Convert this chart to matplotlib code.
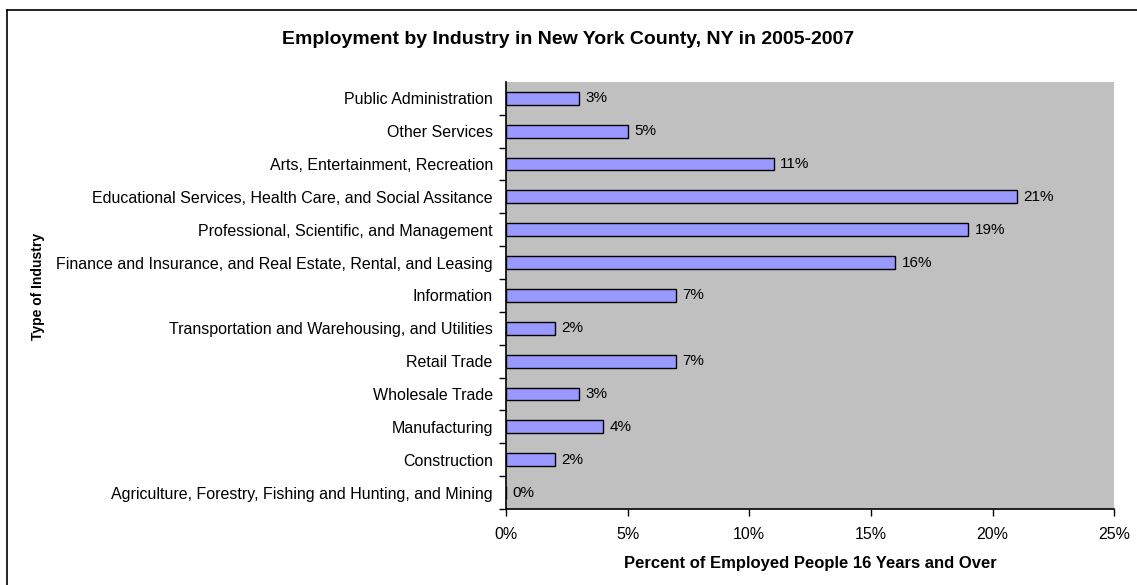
import matplotlib.pyplot as plt
from matplotlib.lines import Line2D

plt.rcParams['font.family'] = ['Liberation Sans', 'DejaVu Sans']

industries = [
    "Agriculture, Forestry, Fishing and Hunting, and Mining",
    "Construction",
    "Manufacturing",
    "Wholesale Trade",
    "Retail Trade",
    "Transportation and Warehousing, and Utilities",
    "Information",
    "Finance and Insurance, and Real Estate, Rental, and Leasing",
    "Professional, Scientific, and Management",
    "Educational Services, Health Care, and Social Assitance",
    "Arts, Entertainment, Recreation",
    "Other Services",
    "Public Administration",
]
percent = [0, 2, 4, 3, 7, 2, 7, 16, 19, 21, 11, 5, 3]
xticks = [0, 5, 10, 15, 20, 25]

fig = plt.figure(figsize=(11.37, 5.85), dpi=100)
ax = fig.add_axes([0.445, 0.130, 0.535, 0.730])
ax.set_facecolor('#c0c0c0')

pos = list(range(len(industries)))
ax.barh(pos, percent, height=0.39, color='#9999ff', edgecolor='black', linewidth=1)
for y, v in zip(pos, percent):
    ax.annotate(f"{v}%", (v, y), xytext=(4.5, 0), textcoords='offset points',
                va='center', ha='left', fontsize=11)

ax.set_xlim(0, 25)
ax.set_ylim(-0.5, len(industries) - 0.5)
ax.set_xticks(xticks)
ax.set_xticklabels([f"{t}%" for t in xticks], fontsize=11.5)
ax.set_yticks(pos)
ax.set_yticklabels(industries, fontsize=11.5)
ax.set_yticks([p + 0.5 for p in pos[:-1]] + [-0.5], minor=True)
ax.tick_params(axis='y', which='major', length=0, pad=9.5)
ax.tick_params(axis='y', which='minor', length=5, width=1, direction='out')
ax.tick_params(axis='x', length=5, width=1, direction='out', pad=8)

for s in ['top', 'right']:
    ax.spines[s].set_visible(False)
ax.spines['left'].set_linewidth(1.2)
ax.spines['bottom'].set_linewidth(1.2)

ax.set_xlabel("Percent of Employed People 16 Years and Over", fontsize=12,
              fontweight='bold', labelpad=10)
fig.text(0.033, 0.51, "Type of Industry", rotation=90, fontsize=10,
         fontweight='bold', ha='center', va='center')
fig.text(0.5, 0.932, "Employment by Industry in New York County, NY in 2005-2007",
         fontsize=14, fontweight='bold', ha='center', va='center')

# chart border (top and left only, as clipped in the original)
fig.add_artist(Line2D([7 / 1137, 7 / 1137], [0, 1 - 10 / 585], color='black', lw=1.2))
fig.add_artist(Line2D([7 / 1137, 1], [1 - 10 / 585, 1 - 10 / 585], color='black', lw=1.2))

fig.savefig("out.png", dpi=100)
